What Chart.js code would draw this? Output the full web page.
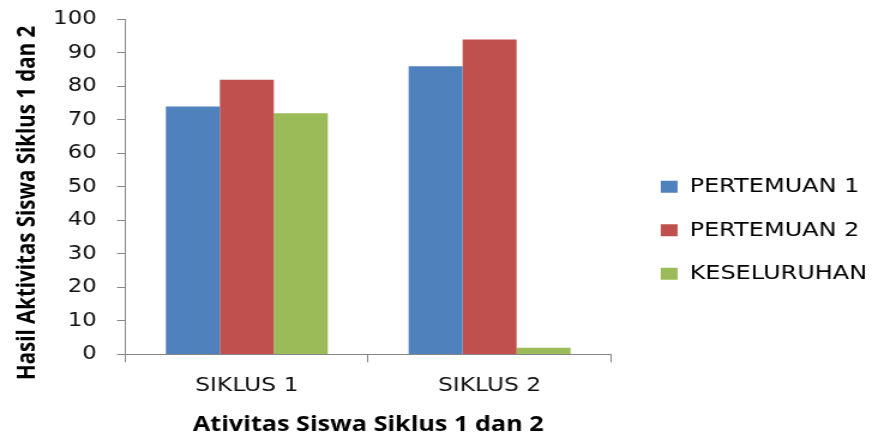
<!DOCTYPE html>
<html>
<head>
<meta charset="utf-8">
<script src="https://cdn.jsdelivr.net/npm/chart.js"></script>
<style>
  html, body { margin: 0; padding: 0; background: #fff; overflow: hidden; }
  /* the reference picture is a horizontally stretched chart, so draw narrow and stretch */
  #wrap { width: 727px; height: 436px; transform: scaleX(1.1994); transform-origin: 0 0; }
</style>
</head>
<body>
<div id="wrap"><canvas id="graphCanvas" width="727" height="436"></canvas></div>
<script>
var categories = ['SIKLUS 1', 'SIKLUS 2'];
var pertemuan1 = [74, 86];
var pertemuan2 = [82, 94];
var keseluruhan = [72, 2];
var yTicks = [0, 10, 20, 30, 40, 50, 60, 70, 80, 90, 100];

var chartdata = {
    labels: categories,
    datasets: [
        { label: 'PERTEMUAN 1', backgroundColor: '#4F81BD', data: pertemuan1 },
        { label: 'PERTEMUAN 2', backgroundColor: '#C0504D', data: pertemuan2 },
        { label: 'KESELURUHAN', backgroundColor: '#9BBB59', data: keseluruhan }
    ]
};

var axisGrey = '#868686';

// empty box between plot area and legend
var legendGap = {
    id: 'legendGap',
    afterInit: function (chart) {
        Chart.layouts.addBox(chart, {
            position: 'right',
            weight: 500,
            fullSize: false,
            options: {},
            width: 0, height: 0, left: 0, top: 0, right: 0, bottom: 0,
            isHorizontal: function () { return false; },
            update: function (maxWidth, maxHeight) { this.width = 18; this.height = maxHeight; },
            draw: function () {}
        });
    }
};

new Chart(document.getElementById('graphCanvas'), {
    type: 'bar',
    data: chartdata,
    plugins: [legendGap],
    options: {
        responsive: false,
        animation: false,
        categoryPercentage: 0.667,
        barPercentage: 1.0,
        layout: { autoPadding: false, padding: { left: 0, right: -6, top: 19, bottom: -2 } },
        plugins: {
            tooltip: { enabled: false },
            legend: {
                position: 'right',
                align: 'center',
                maxWidth: 260,
                title: { display: true, text: '', padding: 0, font: { size: 3 } },
                labels: {
                    boxWidth: 14,
                    boxHeight: 12,
                    padding: 23.5,
                    color: '#000',
                    font: { family: 'DejaVu Sans', size: 20 }
                }
            }
        },
        scales: {
            x: {
                grid: { display: true, drawOnChartArea: false, drawTicks: true, tickLength: 8, color: axisGrey },
                border: { color: axisGrey },
                ticks: { color: '#111', padding: 12, font: { family: 'DejaVu Sans', size: 19.5 } },
                title: {
                    display: true,
                    text: 'Ativitas Siswa Siklus 1 dan 2',
                    color: '#000',
                    padding: { top: 3, bottom: 0 },
                    font: { family: 'Open Sans', size: 21, weight: 'bold' }
                }
            },
            y: {
                min: 0,
                max: 100,
                afterBuildTicks: function (axis) {
                    axis.ticks = yTicks.map(function (v) { return { value: v }; });
                },
                // long tick slot, but only the 7px next to the axis is drawn
                grid: { display: true, drawOnChartArea: false, drawTicks: true, tickLength: 16, tickBorderDash: [0, 9, 7, 100], color: axisGrey },
                border: { color: axisGrey },
                ticks: { color: '#111', padding: 8, font: { family: 'DejaVu Sans', size: 19 } },
                title: {
                    display: true,
                    // trailing spaces push the rotated title a bit lower, as in the original
                    text: 'Hasil Aktivitas Siswa Siklus 1 dan 2\u00A0\u00A0\u00A0\u00A0\u00A0\u00A0',
                    color: '#000',
                    padding: { top: 11, bottom: 0.7 },
                    font: { family: 'Open Sans', size: 20.5, weight: 'bold' }
                }
            }
        }
    }
});
</script>
</body>
</html>
